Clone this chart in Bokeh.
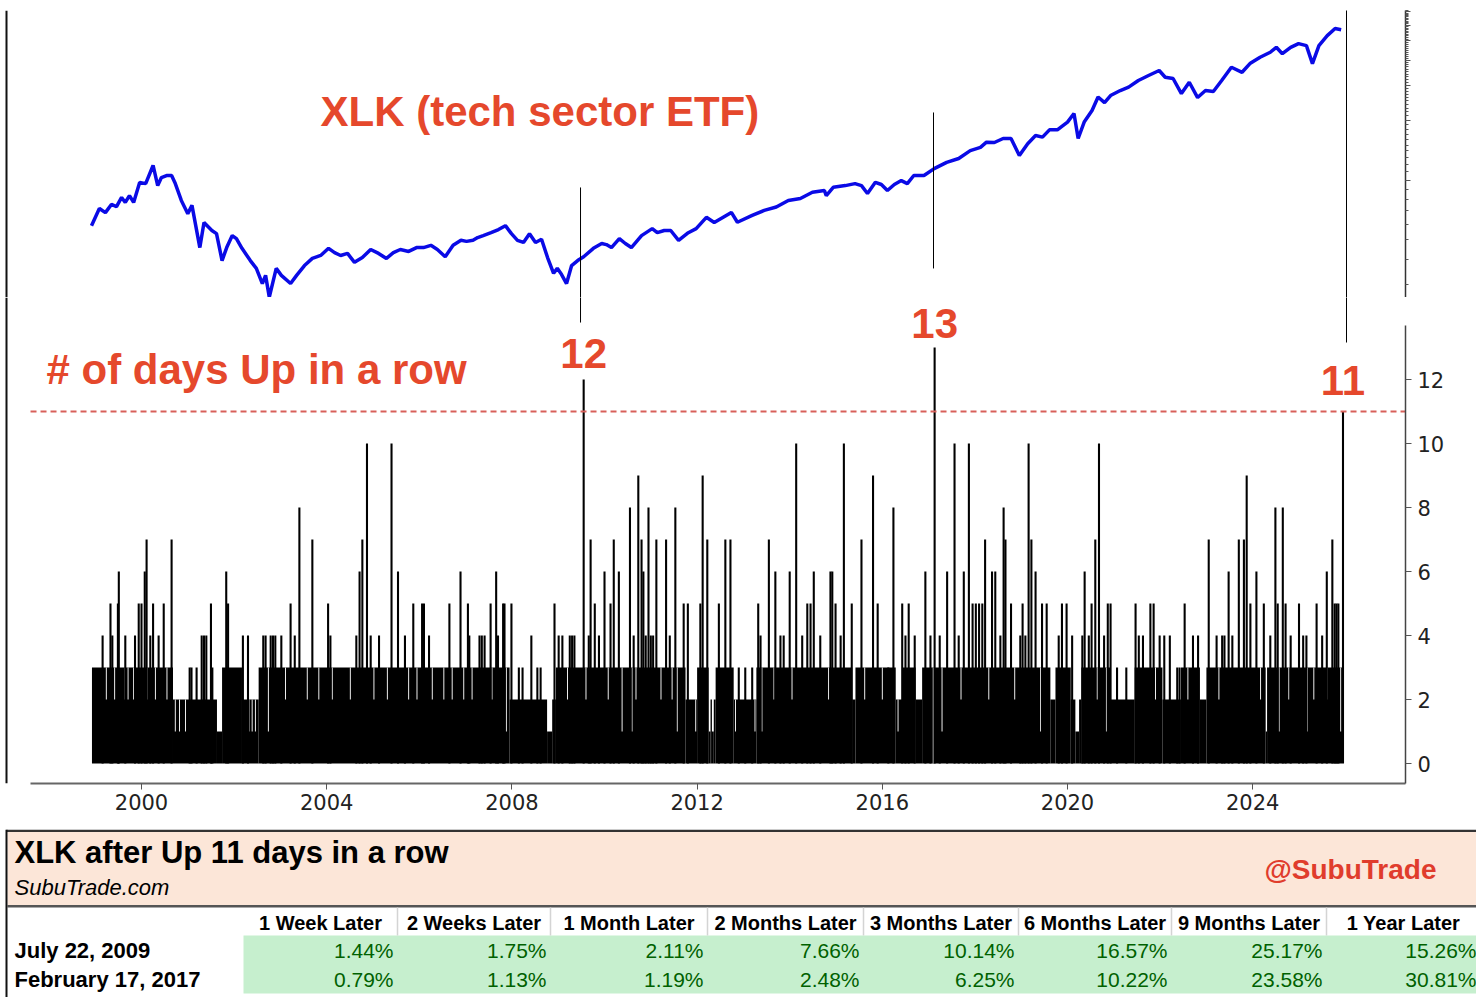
import bisect
from bokeh.plotting import figure
from bokeh.models import Range1d, FixedTicker, Span, Label
from bokeh.layouts import column
from bokeh.embed import file_html
from bokeh.resources import INLINE
from bokeh.core.properties import value

RED = "#E5482C"
TXT_FONT = "Liberation Sans"
AX_FONT = "DejaVu Sans"

# ---------------- data ----------------
price_years = [
    1998.92, 1999.09, 1999.22, 1999.35, 1999.46, 1999.57, 1999.65, 1999.74, 1999.83, 1999.96,
    2000.09, 2000.25, 2000.35, 2000.43, 2000.54, 2000.65, 2000.73, 2000.86, 2001.00, 2001.09,
    2001.26, 2001.35, 2001.52, 2001.62, 2001.74, 2001.84, 2001.96, 2002.05, 2002.17, 2002.35,
    2002.48, 2002.61, 2002.68, 2002.76, 2002.91, 2003.02, 2003.22, 2003.35, 2003.52, 2003.69,
    2003.87, 2004.04, 2004.17, 2004.30, 2004.45, 2004.60, 2004.77, 2004.95, 2005.12, 2005.29,
    2005.44, 2005.59, 2005.77, 2005.94, 2006.09, 2006.25, 2006.39, 2006.56, 2006.73, 2006.90,
    2007.02, 2007.16, 2007.26, 2007.38, 2007.55, 2007.71, 2007.86, 2007.99, 2008.12, 2008.25,
    2008.38, 2008.51, 2008.64, 2008.77, 2008.90, 2008.98, 2009.07, 2009.18, 2009.29, 2009.42,
    2009.55, 2009.76, 2009.94, 2010.04, 2010.15, 2010.32, 2010.45, 2010.58, 2010.80, 2011.03,
    2011.14, 2011.29, 2011.43, 2011.60, 2011.81, 2011.98, 2012.20, 2012.37, 2012.74, 2012.87,
    2013.19, 2013.45, 2013.71, 2013.97, 2014.23, 2014.49, 2014.75, 2014.79, 2014.94, 2015.20,
    2015.41, 2015.55, 2015.68, 2015.85, 2015.98, 2016.11, 2016.26, 2016.41, 2016.54, 2016.68,
    2016.90, 2017.12, 2017.39, 2017.65, 2017.90, 2018.12, 2018.25, 2018.42, 2018.61, 2018.78,
    2018.96, 2019.14, 2019.31, 2019.46, 2019.61, 2019.78, 2020.00, 2020.14, 2020.23, 2020.36,
    2020.53, 2020.66, 2020.80, 2020.93, 2021.14, 2021.32, 2021.53, 2021.75, 2021.98, 2022.11,
    2022.28, 2022.46, 2022.63, 2022.81, 2022.98, 2023.15, 2023.33, 2023.54, 2023.77, 2023.94,
    2024.16, 2024.38, 2024.51, 2024.64, 2024.82, 2024.99, 2025.16, 2025.29, 2025.43, 2025.61,
    2025.78, 2025.91,
]
price_values = [
    29.5, 36.0, 34.3, 37.7, 36.8, 40.9, 38.6, 41.8, 38.6, 48.6,
    48.0, 59.2, 46.9, 51.5, 52.7, 52.7, 48.0, 39.5, 33.9, 37.3,
    22.9, 30.6, 27.9, 26.9, 19.7, 22.9, 26.3, 25.4, 22.7, 19.7,
    18.0, 15.1, 16.6, 12.9, 18.0, 16.6, 15.1, 16.6, 18.6, 20.2,
    20.9, 22.7, 21.6, 20.9, 21.4, 19.3, 20.4, 22.4, 21.4, 20.2,
    21.6, 22.4, 21.9, 22.9, 22.9, 23.5, 22.4, 20.6, 23.5, 24.9,
    24.6, 24.9, 25.7, 26.3, 27.2, 28.2, 29.5, 26.9, 24.9, 24.3,
    26.9, 24.3, 25.2, 20.4, 17.0, 18.0, 16.8, 15.1, 18.6, 19.7,
    20.6, 22.7, 24.0, 23.7, 22.9, 25.4, 24.0, 22.9, 26.3, 28.5,
    27.2, 27.9, 27.9, 24.9, 27.2, 28.5, 32.5, 30.6, 34.4, 30.7,
    33.2, 35.2, 36.6, 39.5, 40.4, 43.4, 44.3, 41.8, 46.0, 46.9,
    48.0, 46.9, 42.8, 48.7, 47.5, 44.3, 47.5, 49.7, 48.0, 52.7,
    52.7, 57.1, 61.4, 64.2, 70.3, 73.0, 77.5, 77.2, 80.9, 80.9,
    66.4, 76.2, 83.7, 82.2, 89.4, 89.4, 97.8, 108.0, 80.9, 97.8,
    111.8, 130.7, 122.6, 133.0, 140.9, 146.5, 158.2, 167.6, 177.6, 164.3,
    161.9, 136.0, 155.1, 129.9, 140.9, 139.4, 158.2, 184.5, 174.0, 192.4,
    207.0, 219.4, 232.3, 215.8, 232.3, 242.6, 237.0, 192.4, 237.0, 266.0,
    288.6, 284.7,
]

# dates (decimal years) of streaks reaching each length
up3_years = [2001.04, 2001.08, 2001.19, 2001.53, 2008.15, 2008.23, 2008.55, 2008.62, 2012.90,
             2013.04, 2013.19, 2016.13, 2021.07, 2021.27, 2022.37, 2022.42]
up4_years = [1999.16, 1999.37, 1999.65, 1999.86, 2000.19, 2000.37, 2001.30, 2001.35, 2001.40,
             2002.19, 2002.30, 2002.63, 2002.68, 2002.79, 2002.84, 2002.89, 2003.02, 2003.31,
             2004.08, 2004.64, 2004.95, 2005.13, 2005.69, 2006.21, 2007.08, 2007.30, 2007.35,
             2007.41, 2007.70, 2008.42, 2009.01, 2009.09, 2009.25, 2009.30, 2009.35, 2009.66,
             2009.88, 2010.63, 2010.89, 2011.00, 2011.05, 2011.41, 2013.37, 2013.80, 2013.87,
             2014.27, 2014.66, 2015.10, 2016.50, 2016.70, 2017.04, 2017.24, 2017.65, 2018.55,
             2018.98, 2019.09, 2019.81, 2020.10, 2020.32, 2020.46, 2020.79, 2021.54, 2021.63,
             2021.99, 2022.09, 2022.21, 2022.71, 2022.82, 2023.22, 2023.34, 2023.39, 2023.56,
             2024.38, 2024.82, 2025.09, 2025.16, 2025.50]
up5_years = [1999.33, 1999.49, 1999.94, 2000.00, 2000.25, 2000.48, 2001.50, 2001.87, 2003.22,
             2004.03, 2005.87, 2006.06, 2006.10, 2006.65, 2007.05, 2007.54, 2007.81, 2007.84,
             2007.99, 2008.92, 2009.79, 2010.13, 2011.71, 2011.80, 2012.07, 2012.47, 2013.32,
             2014.38, 2014.45, 2014.99, 2015.34, 2015.90, 2016.43, 2016.57, 2017.95, 2018.02,
             2018.09, 2018.16, 2018.78, 2019.03, 2019.45, 2019.55, 2019.88, 2019.98, 2020.52,
             2020.87, 2020.93, 2021.47, 2021.79, 2021.86, 2022.53, 2023.95, 2024.24, 2024.54,
             2024.71, 2025.00, 2025.38, 2025.77, 2025.81, 2025.85]
up6_years = [1999.51, 2000.07, 2001.83, 2004.71, 2005.54, 2006.89, 2007.66, 2010.00, 2010.31,
             2010.84, 2013.69, 2014.00, 2014.52, 2014.88, 2014.92, 2016.93, 2017.40, 2017.76,
             2018.37, 2018.44, 2019.31, 2020.37, 2023.48, 2024.08, 2025.60]
up7_years = [2000.11, 2000.65, 2003.69, 2004.77, 2009.70, 2010.20, 2010.80, 2011.12, 2011.33,
             2012.22, 2012.61, 2012.72, 2013.55, 2015.55, 2018.22, 2018.66, 2019.22, 2020.60,
             2023.05, 2023.70, 2023.81, 2025.72]
up8_years = [2003.41, 2010.55, 2010.95, 2011.53, 2016.24, 2018.62, 2024.49, 2024.65]
up9_years = [2010.73, 2012.12, 2015.80, 2023.87]
up10_years = [2004.87, 2005.40, 2014.14, 2015.17, 2017.56, 2017.87, 2019.16, 2020.68]
up11_years = [2025.95]
up12_years = [2009.55]
up13_years = [2017.13]

# the dense short streaks underneath: stretches and their typical top level
run_starts = [1998.93, 2000.68, 2001.63, 2001.74, 2002.17, 2002.53, 2007.95, 2008.76, 2008.87, 2008.95,
              2011.75, 2012.00, 2012.25, 2012.29, 2012.32, 2012.36, 2012.40, 2012.79, 2013.28, 2015.35,
              2015.42, 2016.29, 2016.43, 2016.72, 2016.86, 2019.63, 2019.74, 2020.07, 2020.17, 2020.25,
              2020.30, 2020.92, 2021.45, 2022.05, 2022.45, 2022.86, 2023.00, 2024.28, 2024.31]
run_levels = [3, 2, 1, 3, 2, 3, 2, 1, 2, 3,
              2, 3, 1, 2, 1, 2, 3, 2, 3, 2,
              3, 2, 3, 2, 3, 2, 3, 2, 1, 2,
              3, 2, 3, 2, 3, 2, 3, 1, 3]
last_day = 2025.93

# short breaks in the streaks
dip_to_2 = [1999.24, 1999.42, 1999.64, 1999.71, 1999.83, 2000.12, 2000.30, 2000.55, 2003.11, 2003.58,
            2003.83, 2004.12, 2004.51, 2005.02, 2005.31, 2005.77, 2005.95, 2006.28, 2006.53, 2006.71,
            2006.96, 2007.14, 2007.57, 2009.20, 2009.60, 2010.08, 2010.68, 2011.22, 2011.46, 2013.66,
            2014.05, 2014.84, 2015.62, 2016.00, 2017.70, 2018.30, 2018.86, 2020.64, 2021.90, 2022.60,
            2023.27, 2024.17, 2024.78, 2025.32, 2025.61]
dip_to_1 = [2000.73, 2000.82, 2000.95, 2002.32, 2002.39, 2002.46, 2002.74, 2007.88, 2010.38, 2010.60,
            2011.57, 2011.97, 2012.83, 2013.25, 2013.40, 2016.34, 2017.29, 2019.42, 2020.84, 2024.57,
            2025.18, 2025.90]
dip_to_0 = [2017.10]

year_ticks = [2000, 2004, 2008, 2012, 2016, 2020, 2024]
count_ticks = [0, 2, 4, 6, 8, 10, 12]
threshold = 11

chart_title = "XLK (tech sector ETF)"
panel_title = "# of days Up in a row"
table_title = "XLK after Up 11 days in a row"
table_subtitle = "SubuTrade.com"
table_handle = "@SubuTrade"
table_columns = ["1 Week Later", "2 Weeks Later", "1 Month Later", "2 Months Later",
                 "3 Months Later", "6 Months Later", "9 Months Later", "1 Year Later"]
row_dates = ["July 22, 2009", "February 17, 2017"]
returns_2009 = [1.44, 1.75, 2.11, 7.66, 10.14, 16.57, 25.17, 15.26]
returns_2017 = [0.79, 1.13, 1.19, 2.48, 6.25, 10.22, 23.58, 30.81]

# ---------------- layout constants ----------------
X0, X1 = 1997.0626, 2027.300   # frame extent (years)
AX0 = 1997.603                 # start of drawn x axis
W = 1476


def common(p):
    p.background_fill_color = "white"
    p.border_fill_color = "white"
    p.outline_line_color = None
    p.grid.visible = False
    p.add_layout(Span(location=X0, dimension="height", line_color="#111111", line_width=4))


xr = Range1d(X0, X1)

# ---------------- top panel: price ----------------
top = figure(width=W, height=297, x_range=xr, y_range=Range1d(12.85, 355.7), y_axis_type="log",
             x_axis_location=None, y_axis_location="right", output_backend="svg",
             toolbar_location=None, min_border_left=5, min_border_right=71,
             min_border_top=10, min_border_bottom=0)
common(top)
ya = top.yaxis[0]
ya.major_label_text_font_size = "0px"
ya.major_label_text_color = None
ya.axis_line_color = "#333333"
ya.axis_line_width = 1.5
ya.major_tick_in = 0
ya.major_tick_out = 5
ya.minor_tick_in = 0
ya.minor_tick_out = 3
ya.major_tick_line_color = "#555555"
ya.minor_tick_line_color = "#555555"

top.line(price_years, price_values, line_color="#0A0AE6", line_width=3.5)

marker_x = [2009.482, 2017.106, 2026.026]
top.segment(x0=marker_x, x1=marker_x, y0=[45.9, 109.3, 400.0], y1=[11.0, 17.98, 11.0],
            line_color="black", line_width=1)
top.add_layout(Label(x=2003.866, y=110.6, text=chart_title, text_font=TXT_FONT,
                     text_font_style="bold", text_font_size="42px", text_color=RED,
                     text_align="left", text_baseline="alphabetic"))

# ---------------- bottom panel: consecutive up days ----------------
bars = figure(width=W, height=532, x_range=xr, y_range=Range1d(-0.625, 14.5625),
              x_axis_location="below", y_axis_location="right", output_backend="svg",
              toolbar_location=None, min_border_left=5, min_border_right=71,
              min_border_top=0, min_border_bottom=46)
common(bars)
xa = bars.xaxis[0]
xa.ticker = FixedTicker(ticks=year_ticks)
xa.bounds = (AX0, X1)
xa.axis_line_color = "#666666"
xa.axis_line_width = 2
xa.major_tick_in = 0
xa.major_tick_out = 6
xa.major_tick_line_color = "#555555"
xa.minor_tick_line_color = None
xa.major_label_text_font = AX_FONT
xa.major_label_text_font_size = "21px"
xa.major_label_text_color = "#222222"
xa.major_label_standoff = 4

ba = bars.yaxis[0]
ba.ticker = FixedTicker(ticks=count_ticks)
ba.bounds = (-0.625, 13.6875)
ba.axis_line_color = "#444444"
ba.axis_line_width = 1.5
ba.major_tick_in = 0
ba.major_tick_out = 6
ba.major_tick_line_color = "#555555"
ba.minor_tick_line_color = None
ba.major_label_text_font = AX_FONT
ba.major_label_text_font_size = "21px"
ba.major_label_text_color = "#222222"
ba.major_label_standoff = 6

# base stretches of short streaks
run_ends = run_starts[1:] + [last_day]
bars.quad(left=run_starts, right=run_ends, bottom=0, top=run_levels,
          fill_color="black", line_color=None)


def run_level_at(yr):
    i = bisect.bisect_right(run_starts, yr) - 1
    return run_levels[i] if i >= 0 else 0


dx, db, dt = [], [], []
for lvl, yrs in ((2, dip_to_2), (1, dip_to_1), (0, dip_to_0)):
    for yr in yrs:
        t = run_level_at(yr)
        if t > lvl:
            dx.append(yr)
            db.append(lvl)
            dt.append(t)
bars.vbar(x=dx, width=0.02, bottom=db, top=dt, fill_color="white", line_color=None)

streak_groups = [(3, up3_years), (4, up4_years), (5, up5_years), (6, up6_years),
                 (7, up7_years), (8, up8_years), (9, up9_years), (10, up10_years),
                 (11, up11_years), (12, up12_years), (13, up13_years)]
for h, yrs in streak_groups:
    bars.vbar(x=yrs, width=0.045, bottom=0, top=h, fill_color="black", line_color=None)

bars.segment(x0=[AX0], x1=[X1], y0=[threshold], y1=[threshold],
             line_color="#D8605A", line_width=2, line_dash="6 4")

bars.segment(x0=[marker_x[0], marker_x[2]], x1=[marker_x[0], marker_x[2]],
             y0=[15.0, 15.0], y1=[13.78, 13.156], line_color="black", line_width=1)

bars.add_layout(Label(x=1997.948, y=12.31, text=panel_title, text_font=TXT_FONT,
                      text_font_style="bold", text_font_size="42px", text_color=RED,
                      text_align="left", text_baseline="alphabetic"))
record_x = [up12_years[0], up13_years[0], up11_years[0]]
record_txt = ["12", "13", "11"]
record_y = [12.81, 13.76, 11.97]
for x, t, y in zip(record_x, record_txt, record_y):
    bars.add_layout(Label(x=x, y=y, text=t, text_font=TXT_FONT, text_font_style="bold",
                          text_font_size="42px", text_color=RED, text_align="center",
                          text_baseline="alphabetic"))

# ---------------- table ----------------
tbl = figure(width=W, height=168, x_range=Range1d(0, W), y_range=Range1d(997, 829),
             x_axis_location=None, y_axis_location=None, output_backend="svg",
             toolbar_location=None, min_border=0)
tbl.frame_align = False
tbl.background_fill_color = "white"
tbl.border_fill_color = "white"
tbl.outline_line_color = None
tbl.grid.visible = False
tbl.add_layout(Span(location=6, dimension="height", line_color="#111111", line_width=2))

tbl.quad(left=[6], right=[W], top=[829], bottom=[831.5], fill_color="#333333", line_color=None)
tbl.quad(left=[7], right=[W], top=[831.5], bottom=[904.5], fill_color="#FCE6D8", line_color=None)
tbl.quad(left=[7], right=[W], top=[904.5], bottom=[907], fill_color="#555555", line_color=None)

col_edges = [243, 397, 550, 707, 863, 1018, 1171, 1326, 1480]
tbl.quad(left=[col_edges[0]], right=[col_edges[-1]], top=[935], bottom=[993],
         fill_color="#C6EFCE", line_color=None)
sep_x = col_edges[1:-1]
tbl.segment(x0=sep_x, x1=sep_x, y0=[907] * len(sep_x), y1=[935] * len(sep_x),
            line_color="#D4D4D4", line_width=1.5)

centers = [(col_edges[i] + col_edges[i + 1]) / 2 for i in range(len(table_columns))]
tbl.text(x=centers, y=[922] * len(centers), text=table_columns,
         text_font=value(TXT_FONT), text_font_style="bold", text_font_size=value("20px"),
         text_color="black", text_align="center", text_baseline="alphabetic")

row_base = [950, 979]
tbl.text(x=[14, 14], y=row_base, text=row_dates, text_font=value(TXT_FONT),
         text_font_style="bold", text_font_size=value("22px"), text_color="black",
         text_align="left", text_baseline="alphabetic")

vx, vy, vt = [], [], []
for rb, vals in zip(row_base, (returns_2009, returns_2017)):
    for i, v in enumerate(vals):
        vx.append(col_edges[i + 1] - 4)
        vy.append(rb)
        vt.append(f"{v:.2f}%")
tbl.text(x=vx, y=vy, text=vt, text_font=value(TXT_FONT), text_font_size=value("21px"),
         text_color="#006100", text_align="right", text_baseline="alphabetic")

tbl.add_layout(Label(x=14, y=852, text=table_title, text_font=TXT_FONT, text_font_style="bold",
                     text_font_size="31px", text_color="black", text_align="left",
                     text_baseline="alphabetic"))
tbl.add_layout(Label(x=14, y=887, text=table_subtitle, text_font=TXT_FONT, text_font_style="italic",
                     text_font_size="22px", text_color="black", text_align="left",
                     text_baseline="alphabetic"))
tbl.add_layout(Label(x=1436, y=869, text=table_handle, text_font=TXT_FONT, text_font_style="bold",
                     text_font_size="28px", text_color="#E03C2C", text_align="right",
                     text_baseline="alphabetic"))

layout = column(top, bars, tbl, spacing=0)
open("out.html", "w").write(file_html(layout, INLINE))
